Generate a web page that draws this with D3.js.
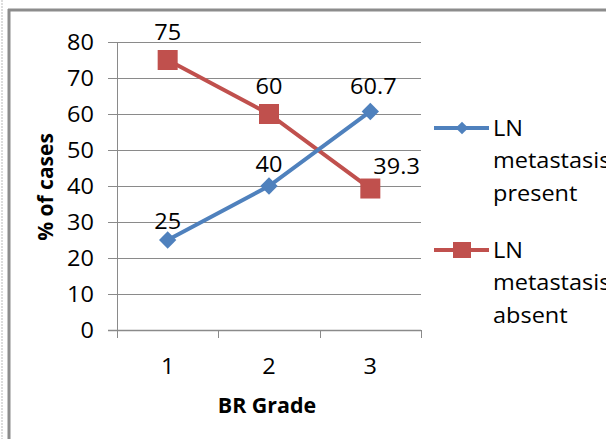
<!DOCTYPE html>
<html><head><meta charset="utf-8">
<script src="https://cdn.jsdelivr.net/npm/d3@7"></script>
<style>body{margin:0;background:#fff}svg{display:block}text{font-family:"Open Sans","Liberation Sans",sans-serif}</style>
</head><body><svg id="c" width="606" height="439"></svg>
<script>
const categories = ["1","2","3"];
const present = [25, 40, 60.7];
const absent = [75, 60, 39.3];
const yTicks = [0,10,20,30,40,50,60,70,80];
const seriesNames = [["LN","metastasis","present"],["LN","metastasis","absent"]];

const svg = d3.select("#c");
const L=117, R=421, T=42, B=330;
const x = d3.scaleBand().domain(categories).range([L,R]);
const y = d3.scaleLinear().domain([0,80]).range([B,T]);
const grid="#8a8a8a";
const FS=21, SX=1.12;

function txt(g, tx, ty, s, anchor, opts={}){
  const t = g.append("text").attr("transform",`translate(${tx},${ty}) scale(${opts.sx||SX},1)${opts.rot?` rotate(${opts.rot})`:""}`)
    .attr("dy","0.36em").attr("text-anchor",anchor||"start").attr("font-size",opts.fs||FS).attr("fill","#000").text(s);
  if(opts.bold) t.attr("font-weight","bold");
  return t;
}

// outer frames
svg.append("line").attr("x1",2).attr("x2",2).attr("y1",0).attr("y2",439).attr("stroke","#bbb").attr("stroke-dasharray","2,1");
svg.append("line").attr("x1",9).attr("x2",9).attr("y1",9).attr("y2",439).attr("stroke","#8c8c8c").attr("stroke-width",3);
svg.append("line").attr("x1",8).attr("x2",606).attr("y1",10).attr("y2",10).attr("stroke","#8c8c8c").attr("stroke-width",3);

// gridlines
svg.append("g").selectAll("line").data(yTicks).join("line")
  .attr("x1",L-9).attr("x2",R).attr("y1",d=>Math.round(y(d))+0.5).attr("y2",d=>Math.round(y(d))+0.5)
  .attr("stroke",grid).attr("stroke-width",d=>d===0?1.5:1);
svg.append("line").attr("x1",L+0.5).attr("x2",L+0.5).attr("y1",T).attr("y2",B+8).attr("stroke",grid);
svg.append("g").selectAll("line").data(categories).join("line")
  .attr("x1",(d,i)=>Math.round(L+x.step()*(i+1))+0.5).attr("x2",(d,i)=>Math.round(L+x.step()*(i+1))+0.5)
  .attr("y1",B).attr("y2",B+8).attr("stroke",grid);

const gl = svg.append("g");
yTicks.forEach(d=>txt(gl, 94, y(d), d, "end"));
categories.forEach(d=>txt(gl, x(d)+x.bandwidth()/2, 366, d, "middle"));

txt(gl, 267, 405, "BR Grade", "middle", {bold:true, sx:1.02});
txt(gl, 45, 187, "% of cases", "middle", {bold:true, sx:1, rot:-90});

const cx = d=>x(d)+x.bandwidth()/2;
const line = d3.line().x((d,i)=>cx(categories[i])).y(d=>y(d));
const blue="#4F81BD", red="#C0504D";

svg.append("path").datum(absent).attr("d",line).attr("fill","none").attr("stroke",red).attr("stroke-width",4);
svg.append("path").datum(present).attr("d",line).attr("fill","none").attr("stroke",blue).attr("stroke-width",4);

svg.append("g").selectAll("rect").data(absent).join("rect")
  .attr("x",(d,i)=>cx(categories[i])-10).attr("y",d=>y(d)-10).attr("width",20).attr("height",20).attr("fill",red);
svg.append("g").selectAll("path").data(present).join("path")
  .attr("d",d3.symbol(d3.symbolSquare,150)())
  .attr("transform",(d,i)=>`translate(${cx(categories[i])},${y(d)}) rotate(45)`).attr("fill",blue);

// data labels
const absOff=[[0,-28,"middle"],[0,-28,"middle"],[3,-22,"start"]];
absent.forEach((d,i)=>txt(gl, cx(categories[i])+absOff[i][0], y(d)+absOff[i][1], d, absOff[i][2]));
const preOff=[[0,-19],[0,-22],[3,-25]];
present.forEach((d,i)=>txt(gl, cx(categories[i])+preOff[i][0], y(d)+preOff[i][1], d, "middle"));

// legend
const lg=[{c:blue,y:128,sq:false},{c:red,y:250,sq:true}];
lg.forEach((g,k)=>{
  svg.append("line").attr("x1",434).attr("x2",489).attr("y1",g.y).attr("y2",g.y).attr("stroke",g.c).attr("stroke-width",4);
  if(g.sq) svg.append("rect").attr("x",453).attr("y",g.y-8).attr("width",18).attr("height",16).attr("fill",g.c);
  else svg.append("path").attr("d",d3.symbol(d3.symbolSquare,80)()).attr("transform",`translate(462,${g.y}) rotate(45)`).attr("fill",g.c);
  seriesNames[k].forEach((t,j)=>txt(gl, 493, g.y+j*32.5, t, "start"));
});
</script></body></html>
